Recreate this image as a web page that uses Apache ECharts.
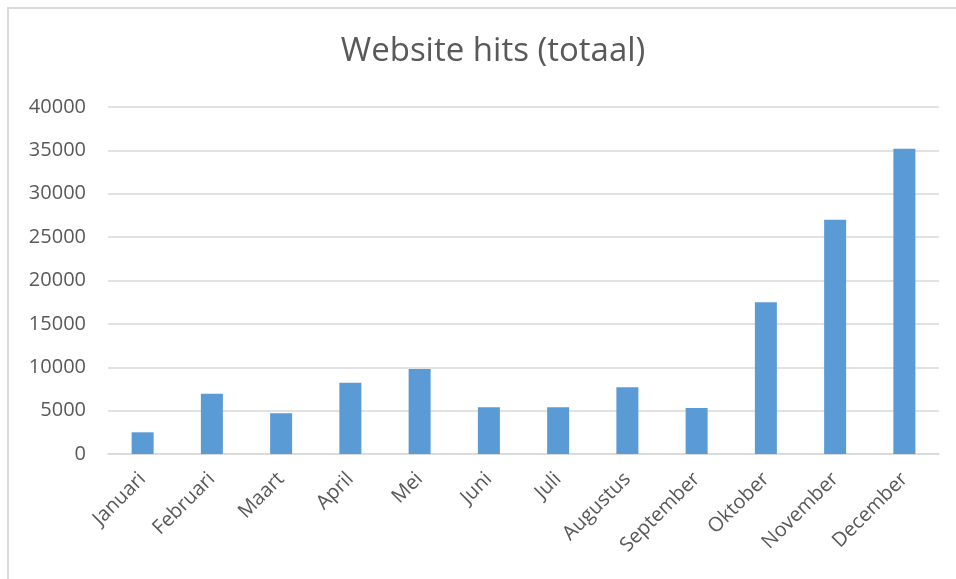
<!DOCTYPE html>
<html>
<head>
<meta charset="utf-8">
<script src="https://cdn.jsdelivr.net/npm/echarts@6/dist/echarts.min.js"></script>
<style>
html,body{margin:0;padding:0;background:#fff;}
#chart{width:956px;height:579px;}
</style>
</head>
<body>
<div id="chart"></div>
<script>
const titleText = 'Website hits (totaal)';
const months = ['Januari','Februari','Maart','April','Mei','Juni','Juli','Augustus','September','Oktober','November','December'];
const hits = [2500, 6950, 4700, 8200, 9800, 5400, 5400, 7700, 5300, 17500, 27000, 35200];
const yMin = 0, yMax = 40000, yStep = 5000;

const chart = echarts.init(document.getElementById('chart'));
chart.setOption({
  animation: false,
  backgroundColor: '#ffffff',
  title: {
    text: titleText,
    left: 488,
    textAlign: 'center',
    top: 30,
    textStyle: { fontFamily: 'Open Sans', fontSize: 33, fontWeight: 'normal', color: '#595959' }
  },
  graphic: [{
    type: 'rect',
    shape: { x: 8, y: 8, width: 1200, height: 1200 },
    style: { fill: 'none', stroke: '#d9d9d9', lineWidth: 2 },
    silent: true
  }],
  grid: { left: 108, right: 17, top: 107, bottom: 125, containLabel: false },
  xAxis: {
    type: 'category',
    data: months,
    axisLine: { show: true, lineStyle: { color: '#d9d9d9', width: 1.5 } },
    axisTick: { show: false },
    axisLabel: {
      rotate: 45,
      margin: 22,
      interval: 0,
      fontFamily: 'Open Sans',
      fontSize: 20,
      color: '#595959'
    }
  },
  yAxis: {
    type: 'value',
    min: yMin,
    max: yMax,
    interval: yStep,
    axisLine: { show: false },
    axisTick: { show: false },
    splitLine: { lineStyle: { color: '#d9d9d9', width: 1.5 } },
    axisLabel: { fontFamily: 'Open Sans', fontSize: 20, color: '#595959', margin: 22, formatter: v => String(v) }
  },
  series: [{
    type: 'bar',
    data: hits,
    barWidth: 22,
    itemStyle: { color: '#5b9bd5' }
  }]
});
</script>
</body>
</html>
